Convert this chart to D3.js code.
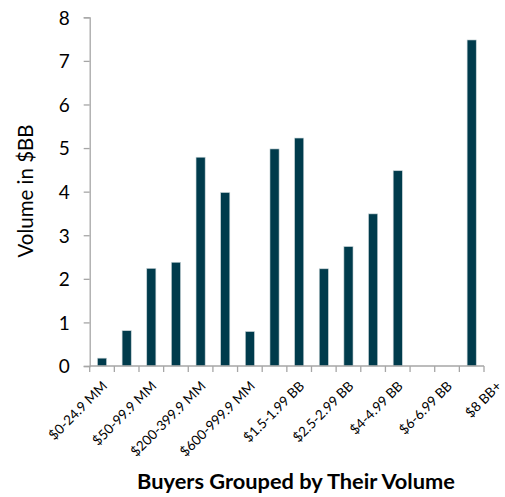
<!DOCTYPE html>
<html>
<head>
	<title>Buyers Grouped by Their Volume</title>
	<script src="https://d3js.org/d3.v7.min.js"></script>
	<style type="text/css">
		body { margin:0; background:#fff; }
		svg text { font-family: Lato, "Open Sans", sans-serif; fill:#000; }
	</style>
</head>
<body>
	<script type="text/javascript">

		// categories (16 buckets), only every other one gets a label
		var categories = ["c0","c1","c2","c3","c4","c5","c6","c7","c8","c9","c10","c11","c12","c13","c14","c15"];
		var volumes = [0.18, 0.81, 2.24, 2.38, 4.79, 3.98, 0.79, 4.98, 5.23, 2.23, 2.74, 3.49, 4.48, 0, 0, 7.48];
		var tickLabels = ["$0-24.9 MM","$50-99.9 MM","$200-399.9 MM","$600-999.9 MM","$1.5-1.99 BB",
			"$2.5-2.99 BB","$4-4.99 BB","$6-6.99 BB","$8 BB+"];
		var yTicks = [0,1,2,3,4,5,6,7,8];

		var chart = {
			w: 505,
			h: 497,
			left: 89.7,
			right: 484,
			top: 17.3,
			bottom: 366
		};

		var svg = d3.select("body").append("svg")
			.attr("width", chart.w)
			.attr("height", chart.h);

		var x = d3.scaleBand()
			.domain(categories)
			.range([chart.left, chart.right])
			.paddingInner(0.63)
			.paddingOuter(0.315);

		var y = d3.scaleLinear()
			.domain([0, 8])
			.range([chart.bottom, chart.top]);

		// edges of the category slots, for the tick marks and labels
		var edge = d3.scaleLinear()
			.domain([0, categories.length])
			.range([chart.left, chart.right]);

		// bars
		svg.selectAll("rect.bar")
			.data(volumes)
			.enter()
			.append("rect")
				.attr("class","bar")
				.attr("x", function(d,i){ return x(categories[i]); })
				.attr("y", function(d){ return y(d); })
				.attr("width", x.bandwidth())
				.attr("height", function(d){ return y(0) - y(d); })
				.attr("fill", "#003b4c")
				.attr("stroke", "#c8d4d8")
				.attr("stroke-width", 0.6)
				.style("display", function(d){ return d > 0 ? null : "none"; });

		// y axis
		var yAxis = svg.append("g")
			.attr("transform","translate(" + chart.left + ",0)")
			.call(d3.axisLeft(y).tickValues(yTicks).tickSize(6).tickPadding(14));
		yAxis.select(".domain").attr("stroke","#a6a6a6").attr("stroke-width",1.3);
		yAxis.selectAll(".tick line").attr("stroke","#a6a6a6").attr("stroke-width",1.3);
		yAxis.selectAll(".tick text")
			.style("font-size","19px")
			.attr("dy","0.36em")
			.attr("fill","#000");

		// x axis line and tick marks at slot edges
		svg.append("line")
			.attr("x1", chart.left).attr("x2", chart.right)
			.attr("y1", chart.bottom).attr("y2", chart.bottom)
			.attr("stroke","#a6a6a6").attr("stroke-width",1.3);

		svg.selectAll("line.xtick")
			.data(d3.range(categories.length + 1))
			.enter()
			.append("line")
				.attr("class","xtick")
				.attr("x1", function(d){ return edge(d); })
				.attr("x2", function(d){ return edge(d); })
				.attr("y1", chart.bottom)
				.attr("y2", chart.bottom + 6)
				.attr("stroke","#a6a6a6")
				.attr("stroke-width",1.3);

		// tick labels, every second category
		svg.selectAll("text.xlabel")
			.data(tickLabels)
			.enter()
			.append("text")
				.attr("class","xlabel")
				.attr("transform", function(d,i){
					return "translate(" + (edge(i * 2 + 0.5) + 6) + "," + (chart.bottom + 21) + ") rotate(-45)";
				})
				.attr("text-anchor","end")
				.style("font-size","13.5px")
				.text(function(d){ return d; });

		// axis titles
		svg.append("text")
			.attr("transform","translate(33,191) rotate(-90)")
			.attr("text-anchor","middle")
			.style("font-size","20.5px")
			.text("Volume in $BB");

		svg.append("text")
			.attr("x", 296)
			.attr("y", 489)
			.attr("text-anchor","middle")
			.style("font-size","21.8px")
			.style("font-weight","bold")
			.text("Buyers Grouped by Their Volume");

	</script>
</body>
</html>
